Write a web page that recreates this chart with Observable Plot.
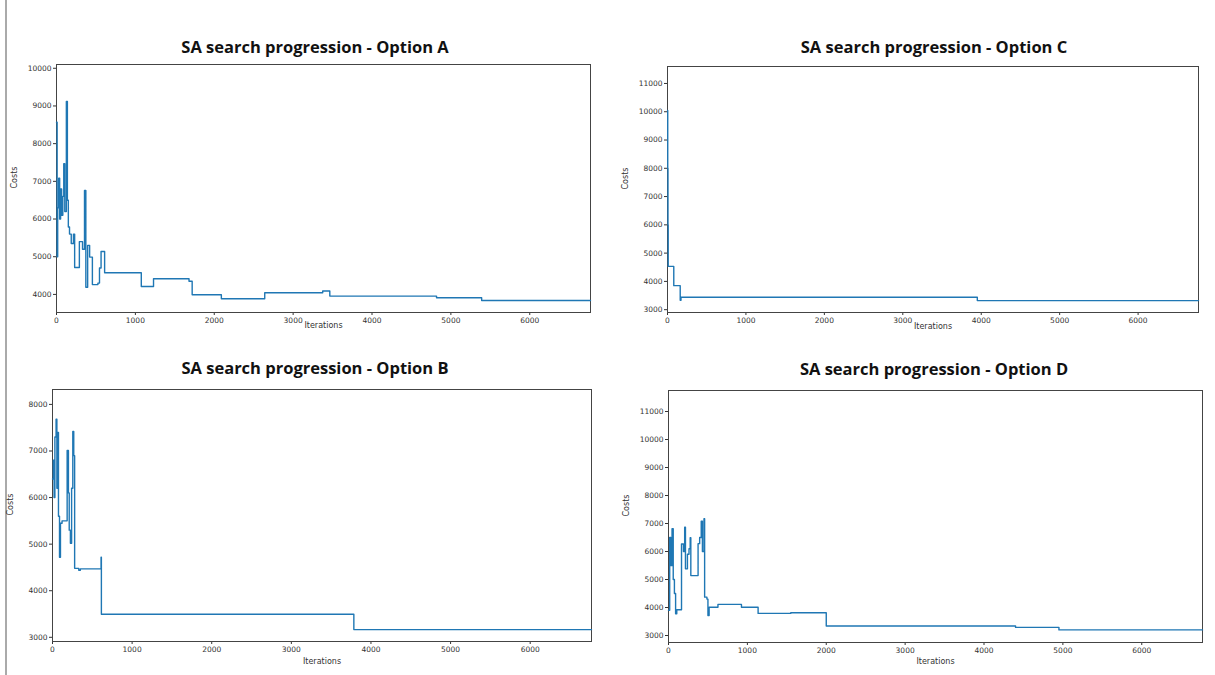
<!DOCTYPE html>
<html><head><meta charset="utf-8">
<script src="https://cdn.jsdelivr.net/npm/d3@7"></script>
<script src="https://cdn.jsdelivr.net/npm/@observablehq/plot@0.6"></script>
<style>
body{margin:0;background:#fff;}
#fig{position:relative;width:1215px;height:675px;overflow:hidden;background:#fff;}
.title{position:absolute;font-family:"Open Sans",sans-serif;font-weight:700;font-size:16.5px;color:#111;text-align:center;width:520px;line-height:20px;}
.panel{position:absolute;}
#edge{position:absolute;left:5px;top:0;width:2px;height:675px;background:#aaa;}
</style></head>
<body><div id="fig"><div id="edge"></div></div>
<script>
// ---- Data ----
const xTicks = [0, 1000, 2000, 3000, 4000, 5000, 6000];

const itersA = [0, 8, 15, 28, 40, 52, 65, 80, 92, 105, 125, 138, 150, 165, 187, 215, 230, 290, 330, 355, 372, 395, 420, 455, 525, 545, 565, 610, 1075, 1230, 1680, 1720, 2090, 2640, 3375, 3465, 4818, 5390, 6770];
const costsA = [8570, 5000, 6300, 7080, 6000, 6800, 6100, 6600, 7470, 6200, 9120, 6500, 5790, 5600, 5350, 5600, 4715, 5400, 5200, 6760, 4190, 5300, 4990, 4260, 4300, 4700, 5140, 4575, 4210, 4415, 4350, 3990, 3885, 4045, 4090, 3955, 3912, 3840, 3840];
const yTicksA = [4000, 5000, 6000, 7000, 8000, 9000, 10000];

const itersB = [0, 10, 20, 30, 45, 55, 66, 75, 88, 100, 120, 184, 200, 210, 225, 240, 255, 267, 278, 330, 350, 610, 614, 3785, 6770];
const costsB = [6400, 6800, 6000, 7300, 7680, 6200, 7400, 5600, 4720, 5450, 5500, 7010, 6100, 5300, 5020, 6200, 7420, 6900, 4480, 4440, 4470, 4720, 3494, 3165, 3165];
const yTicksB = [3000, 4000, 5000, 6000, 7000, 8000];

const itersC = [0, 3, 6, 9, 80, 162, 172, 3950, 6770];
const costsC = [10050, 8000, 6000, 4530, 3850, 3330, 3440, 3320, 3320];
const yTicksC = [3000, 4000, 5000, 6000, 7000, 8000, 9000, 10000, 11000];

const itersD = [0, 15, 30, 45, 60, 75, 90, 105, 165, 190, 205, 215, 240, 260, 275, 283, 375, 395, 415, 430, 450, 458, 487, 500, 515, 627, 925, 1136, 1550, 2000, 4400, 4950, 6770];
const costsD = [3900, 6500, 5500, 6810, 5000, 4500, 3775, 3920, 6270, 6000, 6870, 5380, 5900, 6100, 6490, 5140, 6280, 6500, 7080, 6000, 7170, 4370, 4300, 3710, 4010, 4110, 4010, 3790, 3810, 3340, 3290, 3200, 3200];
const yTicksD = [3000, 4000, 5000, 6000, 7000, 8000, 9000, 10000, 11000];

const titles = ["SA search progression - Option A", "SA search progression - Option B", "SA search progression - Option C", "SA search progression - Option D"];

// ---- Layout ----
const panels = [
  {title: titles[0], iters: itersA, costs: costsA, yTicks: yTicksA, yDom: [3520, 10100], L: 56, R: 590, T: 64, B: 312, ty: 37, tc: 315, xl: 15},
  {title: titles[1], iters: itersB, costs: costsB, yTicks: yTicksB, yDom: [2910, 8320], L: 52, R: 591, T: 389, B: 641, ty: 358, tc: 315, xl: 22},
  {title: titles[2], iters: itersC, costs: costsC, yTicks: yTicksC, yDom: [2900, 11600], L: 667, R: 1198, T: 66, B: 312, ty: 37, tc: 934, xl: 16},
  {title: titles[3], iters: itersD, costs: costsD, yTicks: yTicksD, yDom: [2750, 11750], L: 668, R: 1202, T: 390, B: 642, ty: 359, tc: 934, xl: 21}
];

const fig = document.getElementById("fig");
const ml = 50, mr = 10, mt = 10, mb = 30;

for (const p of panels) {
  const data = p.iters.map((it, i) => ({it, cost: p.costs[i]}));
  const chart = Plot.plot({
    width: (p.R - p.L) + ml + mr,
    height: (p.B - p.T) + mt + mb,
    marginLeft: ml, marginRight: mr, marginTop: mt, marginBottom: mb,
    style: {fontFamily: "DejaVu Sans, sans-serif", fontSize: "7.5px", color: "#333", background: "transparent", overflow: "visible"},
    x: {domain: [0, 6770], ticks: xTicks, tickSize: 3, tickPadding: 2, label: null, tickFormat: d => String(d)},
    y: {domain: p.yDom, ticks: p.yTicks, tickSize: 3, tickPadding: 2, label: null, tickFormat: d => String(d)},
    marks: [
      Plot.frame({stroke: "#444", strokeWidth: 1}),
      Plot.line(data, {x: "it", y: "cost", stroke: "#1f77b4", strokeWidth: 1.4, curve: "step-after"}),
      Plot.text(["Costs"], {frameAnchor: "left", dx: -42, rotate: -90, fontSize: 8, fill: "#333"}),
      Plot.text(["Iterations"], {frameAnchor: "bottom", dy: p.xl, fontSize: 8, fill: "#333"})
    ]
  });
  chart.classList.add("panel");
  chart.style.left = (p.L - ml) + "px";
  chart.style.top = (p.T - mt) + "px";
  fig.appendChild(chart);

  const t = document.createElement("div");
  t.className = "title";
  t.textContent = p.title;
  t.style.left = (p.tc - 260) + "px";
  t.style.top = p.ty + "px";
  fig.appendChild(t);
}
</script>
</body></html>
